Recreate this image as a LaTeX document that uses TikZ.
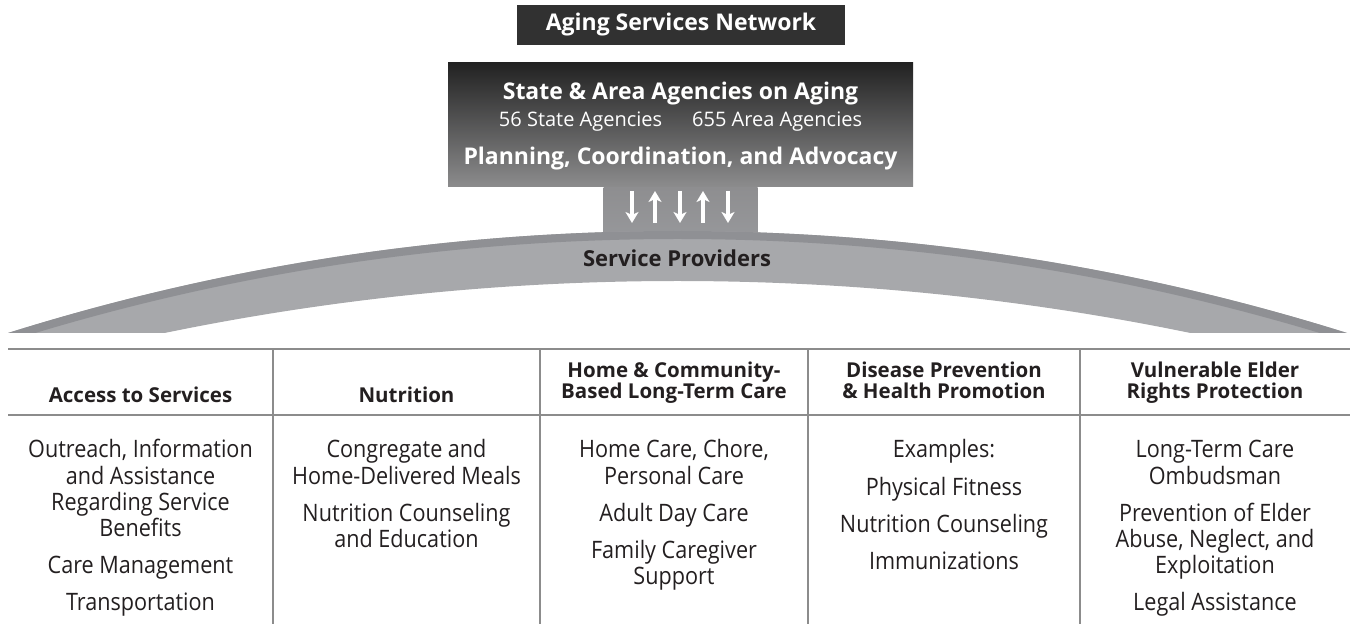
\documentclass[tikz,border=0pt]{standalone}
\usepackage{fontspec}
\setmainfont{Open Sans}
\newfontfamily\bodyfont[FakeStretch=0.9]{Open Sans}
\usetikzlibrary{positioning,arrows.meta}

\definecolor{netgray}{HTML}{313131}
\definecolor{boxtop}{HTML}{222222}
\definecolor{boxbot}{HTML}{8C8C8D}
\definecolor{stemtop}{HTML}{8E8E90}
\definecolor{stembot}{HTML}{97989B}
\definecolor{bandlight}{HTML}{A7A8AB}
\definecolor{banddark}{HTML}{8F9094}
\definecolor{rulegray}{HTML}{8C8C8C}
\definecolor{inkdark}{HTML}{231F20}

\tikzset{
  titlebox/.style = {fill=netgray, text=white, minimum width=328pt, minimum height=40pt,
                     font=\bfseries\fontsize{23}{26}\selectfont},
  agencybox/.style = {top color=boxtop, bottom color=boxbot, minimum width=465pt, minimum height=124pt},
  stembox/.style = {top color=stemtop, bottom color=stembot, minimum width=154pt, minimum height=52pt},
  boxhead/.style = {text=white, font=\bfseries\fontsize{23}{26}\selectfont},
  boxsub/.style = {text=white, font=\fontsize{20}{23}\selectfont},
  colhead/.style = {text=inkdark, align=center, anchor=south, font=\bfseries\fontsize{20.5}{21}\selectfont},
  colbody/.style = {text=inkdark, align=center, anchor=north, font=\bodyfont\fontsize{24}{26}\selectfont},
  flowarrow/.style = {white, line width=3.4pt, -{Stealth[length=11pt,width=13pt,inset=3pt]}},
  tablerule/.style = {rulegray, line width=1.8pt}
}

\begin{document}
\begin{tikzpicture}[x=1pt, y=1pt, every node/.style={inner sep=0pt}]
  \useasboundingbox (0,0) rectangle (1354,624);

  % top boxes
  \node (network) [titlebox] at (681,599) {Aging Services Network};
  \node (agency) [agencybox] at (680.5,499) {};
  \node (stem) [stembox, below=0pt of agency] {};

  % service provider band
  \begin{scope}
    \clip (0,291) rectangle (1354,400);
    \fill[bandlight, even odd rule] (677.5,-1842) circle[radius=2235] (677.5,-2189) circle[radius=2532];
    \fill[banddark, even odd rule] (677.5,-1842) circle[radius=2235] (677.5,-1842) circle[radius=2227];
  \end{scope}

  \node (statehead) [boxhead, anchor=base] at (680.5,524) {State \& Area Agencies on Aging};
  \node (counts) [boxsub, anchor=base] at (680.5,497) {56 State Agencies\hspace*{30pt}655 Area Agencies};
  \node (planning) [boxhead, anchor=base] at (680.5,459) {Planning, Coordination, and Advocacy};
  \node (providers) [text=inkdark, anchor=base, font=\bfseries\fontsize{22}{24}\selectfont] at (677,357) {Service Providers};

  % arrows down and up
  \foreach \i/\xx in {1/632,3/680,5/728}{
    \coordinate (hi\i) at (\xx,433);
    \coordinate (lo\i) at (\xx,401);
    \draw[flowarrow] (hi\i) -- (lo\i);
  }
  \foreach \i/\xx in {2/655,4/703}{
    \coordinate (hi\i) at (\xx,433);
    \coordinate (lo\i) at (\xx,401);
    \draw[flowarrow] (lo\i) -- (hi\i);
  }

  % table
  \draw[tablerule] (8,275) -- (1350,275);
  \draw[tablerule] (8,209) -- (1350,209);
  \foreach \xx in {273,540,808,1080}
    \draw[tablerule] (\xx,275) -- (\xx,0);

  \node (accesshead) [colhead] at (140.5,215) {Access to Services\strut};
  \node (nutrihead) [colhead] at (406.5,215) {Nutrition\strut};
  \node (homehead) [colhead] at (674,219) {Home \& Community-\\Based Long-Term Care\strut};
  \node (diseasehead) [colhead] at (944,219) {Disease Prevention\\\& Health Promotion\strut};
  \node (elderhead) [colhead] at (1215,219) {Vulnerable Elder\\Rights Protection\strut};

  \node (access) [colbody] at (140.5,185) {\strut Outreach, Information\\and Assistance\\Regarding Service\\Benefits\\[11pt]Care Management\\[11pt]Transportation};
  \node (nutri) [colbody] at (406.5,185) {\strut Congregate and\\Home-Delivered Meals\\[11pt]Nutrition Counseling\\and Education};
  \node (home) [colbody] at (674,185) {\strut Home Care, Chore,\\Personal Care\\[11pt]Adult Day Care\\[11pt]Family Caregiver\\Support};
  \node (disease) [colbody] at (944,185) {\strut Examples:\\[11pt]Physical Fitness\\[11pt]Nutrition Counseling\\[11pt]Immunizations};
  \node (elder) [colbody] at (1215,185) {\strut Long-Term Care\\Ombudsman\\[11pt]Prevention of Elder\\Abuse, Neglect, and\\Exploitation\\[11pt]Legal Assistance};
\end{tikzpicture}
\end{document}
